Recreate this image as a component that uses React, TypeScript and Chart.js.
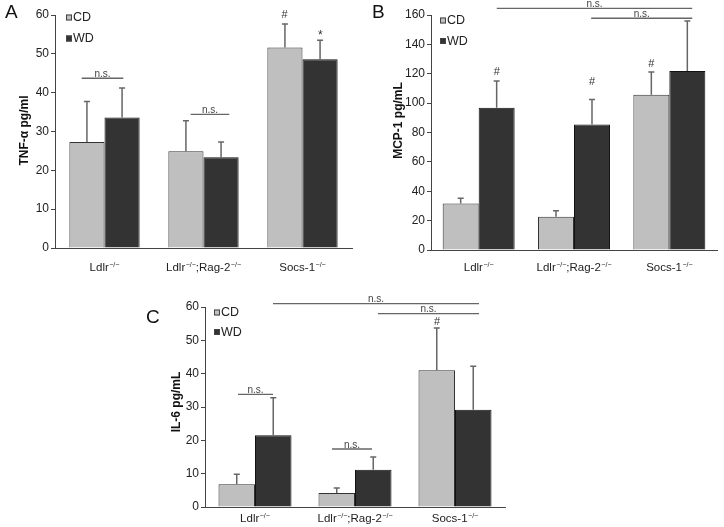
import React, { useEffect, useRef } from 'react';
import { Chart, registerables } from 'chart.js';
Chart.register(...registerables);

// ---------- data ----------
const categories = ['Ldlr−/−', 'Ldlr−/−;Rag-2−/−', 'Socs-1−/−'];
const seriesNames = ['CD', 'WD'];

const tnfCD = [27.3, 24.9, 51.6];
const tnfCDErr = [37.7, 32.8, 57.7];
const tnfWD = [33.6, 23.4, 48.6];
const tnfWDErr = [41.2, 27.3, 53.5];
const tnfTicks = [0, 60, 10];

const mcpCD = [31.7, 22.6, 105.7];
const mcpCDErr = [35.2, 26.8, 121.2];
const mcpWD = [96.8, 85.4, 121.8];
const mcpWDErr = [115, 102.4, 156];
const mcpTicks = [0, 160, 20];

const ilCD = [6.8, 4.2, 41];
const ilCDErr = [9.8, 5.7, 53.7];
const ilWD = [21.5, 11.2, 29.2];
const ilWDErr = [32.8, 15, 42.2];
const ilTicks = [0, 60, 10];

const yTitles = ['TNF-α pg/ml', 'MCP-1 pg/mL', 'IL-6 pg/mL'];
const panelLetters = ['A', 'B', 'C'];

// annotations: [fromIndex, toIndex, value, text]
const tnfLines = [
  [-0.23, 0.19, 43.7, 'n.s.'],
  [0.87, 1.26, 34.4, 'n.s.'],
];
const tnfMarks = [
  [1.82, 60, '#'],
  [2.18, 55.2, '*'],
];
const mcpLines = [
  [0.19, 2.24, 164.5, 'n.s.'],
  [1.18, 2.24, 157.8, 'n.s.'],
];
const mcpMarks = [
  [0.19, 121.4, '#'],
  [1.19, 114.6, '#'],
  [1.81, 127, '#'],
];
const ilLines = [
  [0.18, 2.24, 61, 'n.s.'],
  [1.23, 2.24, 58, 'n.s.'],
  [-0.17, 0.18, 33.8, 'n.s.'],
  [0.77, 1.17, 17.4, 'n.s.'],
];
const ilMarks = [[1.82, 55.5, '#']];

const FONT = '"Liberation Sans", Arial, Helvetica, sans-serif';
const COLORS = ['#bfbfbf', '#333333'];

const extrasPlugin = {
  id: 'extras',
  afterDatasetsDraw(chart: any) {
    const cfg = chart.options.plugins.extras;
    const { ctx } = chart;
    const y = chart.scales.y;
    ctx.save();
    cfg.errors.forEach((errArr: number[], di: number) => {
      const meta = chart.getDatasetMeta(di);
      meta.data.forEach((bar: any, i: number) => {
        const top = y.getPixelForValue(errArr[i]);
        ctx.strokeStyle = '#666';
        ctx.lineWidth = 1.5;
        ctx.beginPath();
        ctx.moveTo(bar.x, bar.y);
        ctx.lineTo(bar.x, top);
        ctx.moveTo(bar.x - 3, top);
        ctx.lineTo(bar.x + 3, top);
        ctx.stroke();
      });
    });
    ctx.restore();
  },
  afterDraw(chart: any) {
    const cfg = chart.options.plugins.extras;
    const { ctx, chartArea } = chart;
    const x = chart.scales.x;
    const y = chart.scales.y;
    ctx.save();
    // y title
    ctx.save();
    ctx.translate(cfg.titleX, (chartArea.top + chartArea.bottom) / 2 + cfg.titleShift);
    ctx.rotate(-Math.PI / 2);
    ctx.fillStyle = '#111';
    ctx.font = `bold 12px ${FONT}`;
    ctx.textAlign = 'center';
    ctx.textBaseline = 'middle';
    ctx.fillText(cfg.title, 0, 0);
    ctx.restore();
    // category labels with superscripts
    categories.forEach((lab, i) => {
      const parts = lab.split('−/−');
      const segs: [string, boolean][] = [];
      parts.forEach((p, k) => {
        if (p) segs.push([p, false]);
        if (k < parts.length - 1) segs.push(['−/−', true]);
      });
      const baseFont = `11.5px ${FONT}`;
      const supFont = `7px ${FONT}`;
      let w = 0;
      segs.forEach(([t, s]) => {
        ctx.font = s ? supFont : baseFont;
        w += ctx.measureText(t).width + (s ? 0.5 : 0);
      });
      let cx = x.getPixelForValue(i) - w / 2;
      const base = chartArea.bottom + cfg.labelOffset + 4;
      ctx.fillStyle = '#222';
      ctx.textBaseline = 'alphabetic';
      ctx.textAlign = 'left';
      segs.forEach(([t, s]) => {
        ctx.font = s ? supFont : baseFont;
        ctx.fillText(t, cx + (s ? 0.5 : 0), s ? base - 4 : base);
        cx += ctx.measureText(t).width + (s ? 0.5 : 0);
      });
    });
    // legend
    seriesNames.forEach((n, i) => {
      const lx = chartArea.left + cfg.legend[0];
      const ly = chartArea.top + cfg.legend[1] + i * cfg.legend[2];
      ctx.fillStyle = COLORS[i];
      ctx.fillRect(lx, ly - 3, 6, 6);
      ctx.strokeStyle = '#444';
      ctx.lineWidth = 1;
      ctx.strokeRect(lx + 0.5, ly - 2.5, 5, 5);
      ctx.fillStyle = '#222';
      ctx.font = `12.5px ${FONT}`;
      ctx.textBaseline = 'middle';
      ctx.textAlign = 'left';
      ctx.fillText(n, lx + 7, ly + 0.5);
    });
    // n.s. lines
    cfg.lines.forEach(([a, b, v, t]: any) => {
      const x1 = x.getPixelForValue(a);
      const x2 = x.getPixelForValue(b);
      const yy = y.getPixelForValue(v);
      ctx.strokeStyle = '#666';
      ctx.lineWidth = 1.4;
      ctx.beginPath();
      ctx.moveTo(x1, yy);
      ctx.lineTo(x2, yy);
      ctx.stroke();
      ctx.fillStyle = '#444';
      ctx.font = `10px ${FONT}`;
      ctx.textAlign = 'center';
      ctx.textBaseline = 'alphabetic';
      ctx.fillText(t, (x1 + x2) / 2, yy - 1.5);
    });
    // significance marks
    cfg.marks.forEach(([a, v, t]: any) => {
      ctx.fillStyle = '#333';
      ctx.font = `${t === '*' ? 12 : 11}px ${FONT}`;
      ctx.textAlign = 'center';
      ctx.textBaseline = 'middle';
      ctx.fillText(t, x.getPixelForValue(a), y.getPixelForValue(v) + (t === '*' ? 2 : 0));
    });
    // panel letter
    ctx.fillStyle = '#111';
    ctx.font = `19px ${FONT}`;
    ctx.textAlign = 'left';
    ctx.textBaseline = 'alphabetic';
    ctx.fillText(cfg.letter[0], cfg.letter[1], cfg.letter[2]);
    ctx.restore();
  },
};

type PanelProps = {
  left: number; top: number; width: number; height: number;
  cd: number[]; wd: number[]; cdErr: number[]; wdErr: number[];
  ticks: number[]; title: string; titleX: number; titleShift: number;
  pad: number[]; yWidth: number; xHeight: number;
  catPct: number; labelOffset: number; legend: number[];
  lines: any[]; marks: any[]; letter: any[];
};

function Panel(p: PanelProps) {
  const ref = useRef<HTMLCanvasElement>(null);
  useEffect(() => {
    if (!ref.current) return;
    const chart = new Chart(ref.current, {
      type: 'bar',
      data: {
        labels: categories,
        datasets: [
          { label: seriesNames[0], data: p.cd, backgroundColor: COLORS[0], borderColor: '#333', borderWidth: 1, categoryPercentage: p.catPct, barPercentage: 1 },
          { label: seriesNames[1], data: p.wd, backgroundColor: COLORS[1], borderColor: '#111', borderWidth: 1, categoryPercentage: p.catPct, barPercentage: 1 },
        ],
      },
      options: {
        responsive: false,
        animation: false,
        devicePixelRatio: 1,
        layout: { padding: { left: p.pad[0], top: p.pad[1], right: p.pad[2], bottom: p.pad[3] } },
        plugins: {
          legend: { display: false },
          tooltip: { enabled: false },
          extras: {
            errors: [p.cdErr, p.wdErr], labelOffset: p.labelOffset, legend: p.legend,
            lines: p.lines, marks: p.marks, letter: p.letter,
            title: p.title, titleX: p.titleX, titleShift: p.titleShift,
          },
        } as any,
        scales: {
          x: {
            grid: { display: false },
            border: { display: true, color: '#444', width: 1 },
            ticks: { display: false },
            afterFit: (s: any) => { s.height = p.xHeight; },
          },
          y: {
            min: p.ticks[0], max: p.ticks[1],
            ticks: { stepSize: p.ticks[2], color: '#222', font: { size: 12, family: FONT }, padding: 2 },
            grid: { display: true, drawOnChartArea: false, drawTicks: true, tickLength: 4, tickColor: '#444' },
            border: { display: true, color: '#444', width: 1 },
            title: { display: false },
            afterFit: (s: any) => { s.width = p.yWidth; },
          },
        },
      },
      plugins: [extrasPlugin],
    } as any);
    return () => chart.destroy();
  }, []);
  return (
    <canvas ref={ref} width={p.width} height={p.height}
      style={{ position: 'absolute', left: p.left, top: p.top, width: p.width, height: p.height }} />
  );
}

export default function App() {
  return (
    <div style={{ position: 'absolute', left: 0, top: 0, width: 724, height: 527, background: '#fff', overflow: 'hidden' }}>
      <Panel left={0} top={0} width={360} height={275}
        cd={tnfCD} wd={tnfWD} cdErr={tnfCDErr} wdErr={tnfWDErr} ticks={tnfTicks}
        title={yTitles[0]} titleX={25} titleShift={-1}
        pad={[0, 15, 8, 0]} yWidth={55} xHeight={27}
        catPct={0.71} labelOffset={18.7} legend={[11, 2.5, 21]}
        lines={tnfLines} marks={tnfMarks} letter={[panelLetters[0], 5, 18]} />
      <Panel left={362} top={0} width={362} height={275}
        cd={mcpCD} wd={mcpWD} cdErr={mcpCDErr} wdErr={mcpWDErr} ticks={mcpTicks}
        title={yTitles[1]} titleX={36.5} titleShift={-12}
        pad={[0, 15, 7, 0]} yWidth={69} xHeight={25}
        catPct={0.755} labelOffset={16.7} legend={[9, 5.5, 20.5]}
        lines={mcpLines} marks={mcpMarks} letter={[panelLetters[1], 10, 18]} />
      <Panel left={140} top={280} width={410} height={247}
        cd={ilCD} wd={ilWD} cdErr={ilCDErr} wdErr={ilWDErr} ticks={ilTicks}
        title={yTitles[2]} titleX={37} titleShift={-5}
        pad={[0, 27, 45, 0]} yWidth={65} xHeight={20}
        catPct={0.73} labelOffset={11.3} legend={[9, 5.5, 19.5]}
        lines={ilLines} marks={ilMarks} letter={[panelLetters[2], 6, 43]} />
    </div>
  );
}
